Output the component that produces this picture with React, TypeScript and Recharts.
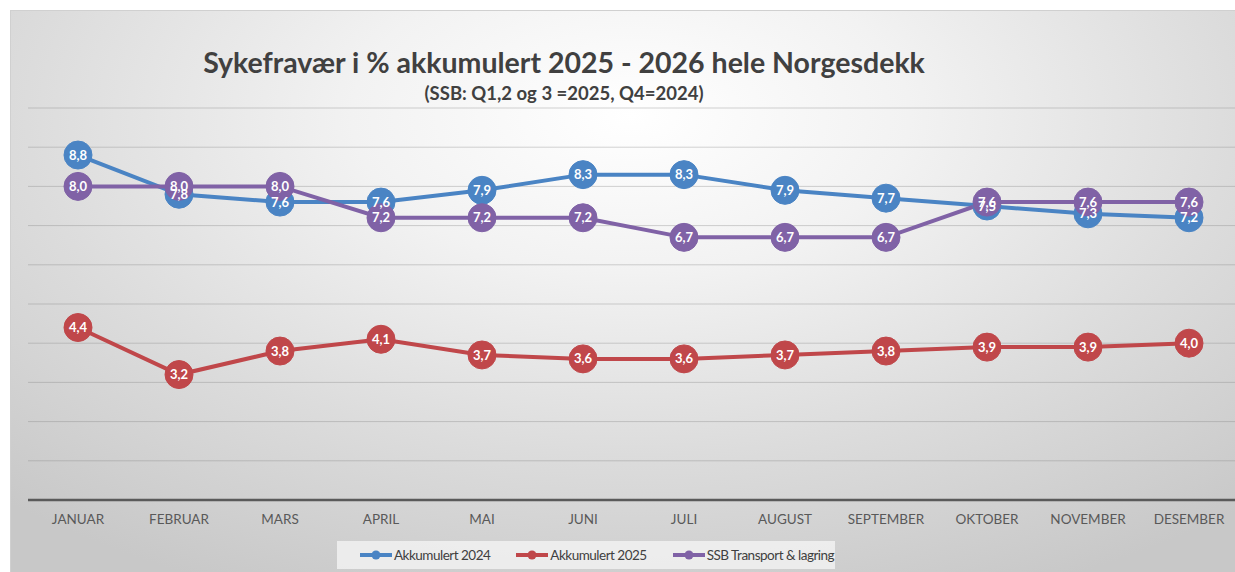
import { CartesianGrid, LabelList, Legend, Line, LineChart, XAxis, YAxis } from "recharts";

const months = [
  "JANUAR",
  "FEBRUAR",
  "MARS",
  "APRIL",
  "MAI",
  "JUNI",
  "JULI",
  "AUGUST",
  "SEPTEMBER",
  "OKTOBER",
  "NOVEMBER",
  "DESEMBER",
];

const akk2024 = [8.8, 7.8, 7.6, 7.6, 7.9, 8.3, 8.3, 7.9, 7.7, 7.5, 7.3, 7.2];
const akk2025 = [4.4, 3.2, 3.8, 4.1, 3.7, 3.6, 3.6, 3.7, 3.8, 3.9, 3.9, 4.0];
const ssb = [8.0, 8.0, 8.0, 7.2, 7.2, 7.2, 6.7, 6.7, 6.7, 7.6, 7.6, 7.6];

const yTicks = [0, 1, 2, 3, 4, 5, 6, 7, 8, 9, 10];

const BLUE = "#4a84c4";
const RED = "#c0474a";
const PURPLE = "#8062a6";
const FONT = "Lato, 'Open Sans', sans-serif";

const series = [
  { key: "a2024", name: "Akkumulert 2024", color: BLUE },
  { key: "a2025", name: "Akkumulert 2025", color: RED },
  { key: "ssb", name: "SSB Transport & lagring", color: PURPLE },
];

const data = months.map((m, i) => ({
  month: m,
  a2024: akk2024[i],
  a2025: akk2025[i],
  ssb: ssb[i],
}));

const fmt = (v: any) => Number(v).toFixed(1).replace(".", ",");

function makeDot(color: string) {
  return (props: any) => {
    const { cx, cy, index } = props;
    if (cx == null || cy == null) return <g key={index} />;
    return <circle key={index} cx={cx} cy={cy} r={14} fill={color} stroke={color} />;
  };
}

function LegendBox() {
  return (
    <div
      style={{
        width: 498,
        height: 28,
        background: "rgba(245,245,245,0.75)",
        display: "flex",
        alignItems: "center",
        fontFamily: FONT,
        fontSize: 13.5,
        letterSpacing: -0.5,
        color: "#404040",
        paddingLeft: 23,
        boxSizing: "border-box",
        whiteSpace: "nowrap",
      }}
    >
      {series.map((s) => (
        <div
          key={s.key}
          style={{ display: "flex", alignItems: "center", marginRight: 26, flexShrink: 0 }}
        >
          <svg width={32} height={10} style={{ marginRight: 2 }}>
            <line x1={0} y1={5} x2={32} y2={5} stroke={s.color} strokeWidth={4} />
            <circle cx={16} cy={5} r={4.5} fill={s.color} />
          </svg>
          <span>{s.name}</span>
        </div>
      ))}
    </div>
  );
}

export default function App() {
  return (
    <div
      style={{
        position: "fixed",
        left: 0,
        top: 0,
        width: 1235,
        height: 572,
        overflow: "hidden",
        background: "#ffffff",
      }}
    >
      <div
        style={{
          position: "absolute",
          left: 10,
          top: 10,
          width: 1240,
          height: 580,
          borderTop: "1px solid #d0d0d0",
          borderLeft: "1px solid #d0d0d0",
          background:
            "radial-gradient(ellipse 75% 90% at 50% 18%, #ffffff 0%, #f2f2f2 30%, #dcdcdc 65%, #c8c8c8 100%)",
        }}
      >
        <div
          style={{
            position: "absolute",
            left: 0,
            width: 1106,
            top: 34,
            textAlign: "center",
            fontFamily: FONT,
            fontWeight: 700,
            fontSize: 28.5,
            color: "#404040",
          }}
        >
          Sykefravær i % akkumulert 2025 - 2026 hele Norgesdekk
        </div>
        <div
          style={{
            position: "absolute",
            left: 0,
            width: 1106,
            top: 71,
            textAlign: "center",
            fontFamily: FONT,
            fontWeight: 700,
            fontSize: 18.5,
            color: "#404040",
          }}
        >
          (SSB: Q1,2 og 3 =2025, Q4=2024)
        </div>
        <LineChart
          width={1240}
          height={580}
          data={data}
          margin={{ top: 97, right: 12, left: 17, bottom: 61 }}
        >
          <CartesianGrid vertical={false} stroke="#808080" strokeOpacity={0.35} />
          <XAxis
            dataKey="month"
            padding={{ left: 50, right: 50 }}
            axisLine={{ stroke: "#5a5a5a", strokeWidth: 2.5 }}
            tickLine={false}
            tickMargin={8}
            height={30}
            tick={{ fill: "#595959", fontSize: 13.5, fontFamily: FONT }}
            interval={0}
          />
          <YAxis hide domain={[0, 10]} ticks={yTicks} />
          <Legend
            layout="horizontal"
            verticalAlign="middle"
            align="center"
            wrapperStyle={{ left: 326, top: 530, width: 498, height: 28 }}
            content={() => <LegendBox />}
          />
          {series.map((s) => (
            <Line
              key={s.key}
              type="linear"
              dataKey={s.key}
              name={s.name}
              stroke={s.color}
              strokeWidth={4}
              dot={makeDot(s.color)}
              activeDot={false}
              isAnimationActive={false}
            />
          ))}
          {series.map((s) => (
            <Line
              key={s.key + "-lbl"}
              type="linear"
              dataKey={s.key}
              stroke="none"
              dot={false}
              activeDot={false}
              legendType="none"
              isAnimationActive={false}
            >
              <LabelList
                dataKey={s.key}
                position="center"
                formatter={fmt}
                fill="#ffffff"
                fontSize={13}
                fontWeight={700}
                fontFamily={FONT}
              />
            </Line>
          ))}
        </LineChart>
      </div>
    </div>
  );
}
